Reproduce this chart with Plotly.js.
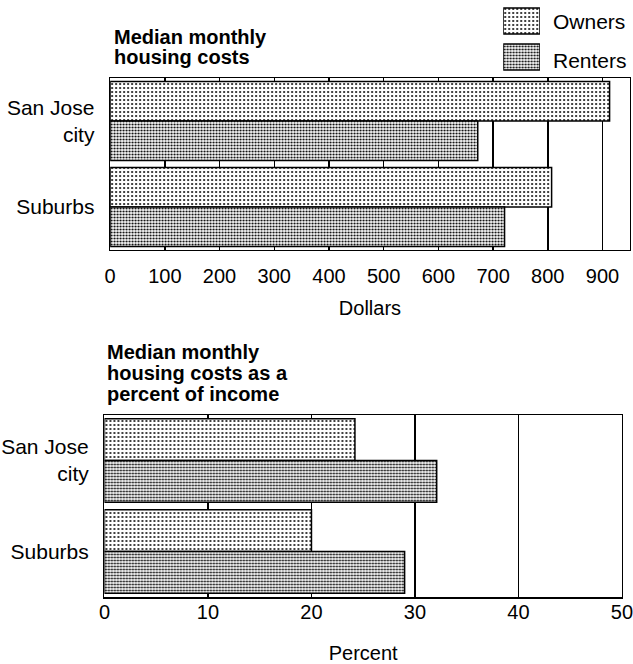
<!DOCTYPE html>
<html>
<head>
<meta charset="utf-8">
<script src="https://cdn.plot.ly/plotly-3.0.1.min.js"></script>
<style>html,body{margin:0;padding:0;background:#fff}#chart{width:633px;height:664px}</style>
</head>
<body>
<div id="chart"></div>
<script>
// ---- data ----
var categories = ["San Jose<br>city", "Suburbs"];
var seriesNames = ["Owners", "Renters"];
var ownersDollars = [913, 807];
var rentersDollars = [672, 721];
var ownersPercent = [24.2, 20.0];
var rentersPercent = [32.1, 29.0];
var dollarTicks = [0, 100, 200, 300, 400, 500, 600, 700, 800, 900];
var percentTicks = [0, 10, 20, 30, 40, 50];
var title1Lines = ["Median monthly", "housing costs"];
var title2Lines = ["Median monthly", "housing costs as a", "percent of income"];

var FONT = "Liberation Sans, Arial, Helvetica, sans-serif";
var ownerPattern = {shape: ".", fgcolor: "#000", bgcolor: "#fff", size: 4, solidity: 0.2};
var renterPattern = {shape: ".", fgcolor: "#000", bgcolor: "#fff", size: 3, solidity: 0.4};

function barTrace(x, y, name, pat, xa, ya) {
  return {
    type: "bar", orientation: "h", x: x, y: y, name: name,
    xaxis: xa, yaxis: ya, showlegend: false, hoverinfo: "x",
    marker: {color: "#fff", pattern: pat, line: {color: "#000", width: 1.5}}
  };
}

var data = [
  barTrace(ownersDollars, categories, seriesNames[0], ownerPattern, "x", "y"),
  barTrace(rentersDollars, categories, seriesNames[1], renterPattern, "x", "y"),
  barTrace(ownersPercent, categories, seriesNames[0], ownerPattern, "x2", "y2"),
  barTrace(rentersPercent, categories, seriesNames[1], renterPattern, "x2", "y2"),
  // legend swatches
  {type: "bar", orientation: "h", x: [1, 1], y: seriesNames, xaxis: "x3", yaxis: "y3",
   showlegend: false, hoverinfo: "skip", width: 0.72,
   marker: {color: "#fff", pattern: {shape: ".", fgcolor: "#000", bgcolor: "#fff",
            size: [ownerPattern.size, renterPattern.size],
            solidity: [ownerPattern.solidity, renterPattern.solidity]},
            line: {color: "#000", width: 1.5}}}
];

function xAxis(domain, range, ticks, anchor, title, tstand, lstand) {
  return {
    domain: domain, range: range, anchor: anchor, tickmode: "array", tickvals: ticks,
    ticktext: ticks.map(String), showgrid: true, gridcolor: "#000", gridwidth: 1.5,
    zeroline: false, showline: true, linecolor: "#000", linewidth: 1.5, mirror: true,
    ticks: "", ticklabelstandoff: lstand, ticklabeloverflow: "allow",
    tickfont: {family: FONT, size: 20, color: "#000"},
    title: {text: title, font: {family: FONT, size: 20, color: "#000"}, standoff: tstand},
    fixedrange: true
  };
}
function yAxis(domain, anchor) {
  return {
    domain: domain, anchor: anchor, autorange: "reversed", type: "category",
    showgrid: false, zeroline: false, showline: true, linecolor: "#000", linewidth: 1.5, mirror: true,
    ticks: "", ticklabelstandoff: 10, tickfont: {family: FONT, size: 21, color: "#000"},
    fixedrange: true
  };
}

var annotations = [];
title1Lines.forEach(function (t, i) {
  annotations.push({text: "<b>" + t + "</b>", xref: "paper", yref: "paper",
    x: 112 / 633, y: 1 - (37 + i * 20) / 664, xanchor: "left", yanchor: "middle", showarrow: false,
    font: {family: FONT, size: 20, color: "#000"}});
});
title2Lines.forEach(function (t, i) {
  annotations.push({text: "<b>" + t + "</b>", xref: "paper", yref: "paper",
    x: 105 / 633, y: 1 - (352 + i * 21) / 664, xanchor: "left", yanchor: "middle", showarrow: false,
    font: {family: FONT, size: 20, color: "#000"}});
});
seriesNames.forEach(function (t, i) {
  annotations.push({text: t, xref: "paper", yref: "paper", x: 551 / 633, y: 1 - (22 + i * 38) / 664,
    xanchor: "left", yanchor: "middle", showarrow: false, font: {family: FONT, size: 21, color: "#000"}});
});

var layout = {
  width: 633, height: 664,
  margin: {l: 0, r: 0, t: 0, b: 0},
  paper_bgcolor: "#fff", plot_bgcolor: "#fff",
  barmode: "group", bargap: 0.08, bargroupgap: 0,
  showlegend: false,
  xaxis: xAxis([0.174, 0.995], [0, 950], dollarTicks, "y", "Dollars", 14, 8),
  yaxis: yAxis([0.6235, 0.8825], "x"),
  xaxis2: xAxis([0.165, 0.9826], [0, 50], percentTicks, "y2", "Percent", 24, -4),
  yaxis2: yAxis([0.1009, 0.375], "x2"),
  xaxis3: {domain: [0.795, 0.853], range: [0, 1], anchor: "y3", visible: false, fixedrange: true},
  yaxis3: {domain: [0.887, 0.9955], anchor: "x3", visible: false, autorange: "reversed",
           type: "category", fixedrange: true},
  annotations: annotations
};

Plotly.newPlot("chart", data, layout, {staticPlot: true, displayModeBar: false});
</script>
</body>
</html>
